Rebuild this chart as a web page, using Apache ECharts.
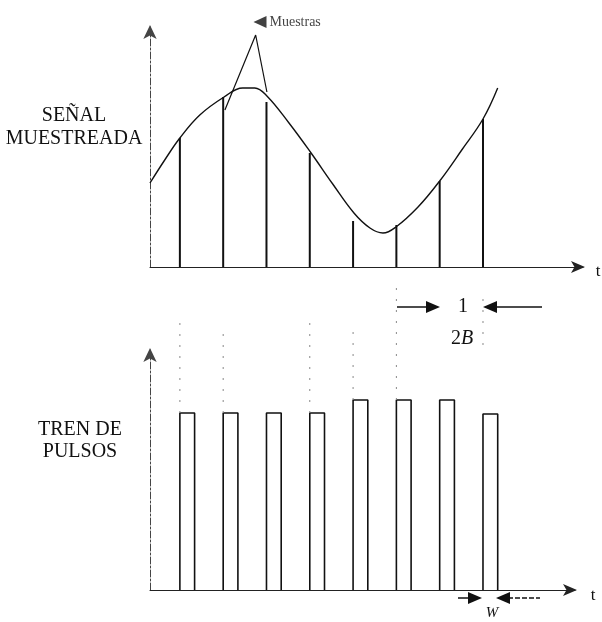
<!DOCTYPE html>
<html><head><meta charset="utf-8">
<script src="https://cdn.jsdelivr.net/npm/echarts@6/dist/echarts.min.js"></script>
<style>html,body{margin:0;padding:0;background:#fff}#c{width:602px;height:622px}</style>
</head><body><div id="c"></div>
<script>
// sample instants (in sample periods) and sampled values
const sampleT = [1, 2, 3, 4, 5, 6, 7, 8];
const sampleValues = [12.9, 17.0, 16.5, 11.4, 4.6, 4.2, 8.6, 14.8];
// continuous signal
const curveT = [0.31, 0.65, 1.0, 1.46, 2.02, 2.45, 2.73, 3.01, 3.52, 4.03, 4.53, 5.02, 5.39, 5.69, 5.99, 6.5, 7.0, 7.51, 8.0, 8.34];
const curveValues = [8.4, 10.7, 12.9, 15.2, 17.0, 17.9, 17.9, 17.1, 14.4, 11.4, 8.3, 5.4, 3.9, 3.4, 4.0, 6.0, 8.6, 11.7, 14.8, 17.9];
// pulse train
const pulseT = [1, 2, 3, 4, 5, 6, 7, 8];
const pulseValues = [17.7, 17.7, 17.7, 17.7, 19.0, 19.0, 19.0, 17.6];
const pulseWidth = 0.34;
// "Muestras" pointer (top grid units)
const pointerT = [2.04, 2.75, 3.01];
const pointerValues = [15.7, 23.2, 17.5];
// faint dotted scan traces above the pulses (bottom grid units)
const traceT = [1, 2, 4, 5, 6, 8];
const traceTop = [27.0, 26.5, 27.5, 25.8, 30.8, 30.0];
const traceBottom = [17.7, 17.7, 17.7, 19.0, 19.0, 24.5];

const black = '#111';
const chart = echarts.init(document.getElementById('c'), null, {renderer: 'canvas'});

function axisX(idx, min, max) {
  return {
    type: 'value', gridIndex: idx, min: min, max: max,
    axisLabel: {show: false}, axisTick: {show: false}, splitLine: {show: false},
    axisLine: {show: true, symbol: ['none', 'arrow'], symbolSize: [9, 14], symbolOffset: [0, 2],
      lineStyle: {color: '#222', width: 1}}
  };
}
function axisY(idx) {
  return {
    type: 'value', gridIndex: idx, min: 0, max: 24,
    axisLabel: {show: false}, axisTick: {show: false}, splitLine: {show: false},
    axisLine: {show: true, onZero: false, symbol: ['none', 'arrow'], symbolSize: [10, 14], symbolOffset: [0, 2],
      lineStyle: {color: '#444', width: 1, type: [7, 2, 2, 2]}}
  };
}

const series = [];
series.push({
  type: 'line', xAxisIndex: 0, yAxisIndex: 0, smooth: 0.4, symbol: 'none',
  lineStyle: {color: black, width: 1.4},
  data: curveT.map((t, i) => [t, curveValues[i]])
});
series.push({
  type: 'bar', xAxisIndex: 0, yAxisIndex: 0, barWidth: 2,
  itemStyle: {color: black},
  data: sampleT.map((t, i) => [t, sampleValues[i]])
});
series.push({
  type: 'line', xAxisIndex: 0, yAxisIndex: 0, symbol: 'none', clip: false,
  lineStyle: {color: black, width: 1.2},
  data: pointerT.map((t, i) => [t, pointerValues[i]])
});
series.push({
  type: 'scatter', xAxisIndex: 0, yAxisIndex: 0, clip: false,
  symbol: 'triangle', symbolRotate: 90, symbolSize: [12, 13],
  itemStyle: {color: black},
  label: {show: true, position: 'right', distance: 3, formatter: 'Muestras',
    fontFamily: 'Liberation Serif', fontSize: 14, color: black},
  data: [[2.85, 24.5]]
});
pulseT.forEach((t, i) => {
  const h = pulseValues[i];
  series.push({
    type: 'line', xAxisIndex: 1, yAxisIndex: 1, symbol: 'none',
    lineStyle: {color: black, width: 1.6},
    data: [[t, 0], [t, h], [t + pulseWidth, h], [t + pulseWidth, 0]]
  });
});
traceT.forEach((t, i) => {
  series.push({
    type: 'line', xAxisIndex: 1, yAxisIndex: 1, symbol: 'none', clip: false,
    lineStyle: {color: '#888', width: 1, type: [2, 9]},
    data: [[t, traceBottom[i]], [t, traceTop[i]]]
  });
});

const serif = 'Liberation Serif';
function tri(tipX, y, dir) {
  const b = tipX - dir * 14;
  return {type: 'polygon', shape: {points: [[tipX, y], [b, y - 6], [b, y + 6]]}, style: {fill: black}};
}
function seg(x1, x2, y, dash) {
  return {type: 'line', shape: {x1: x1, y1: y, x2: x2, y2: y}, style: {stroke: black, lineWidth: 1.5, lineDash: dash || null}};
}

chart.setOption({
  animation: false,
  backgroundColor: '#fff',
  grid: [
    {left: 150, top: 27, width: 433, height: 240},
    {left: 150, top: 350, width: 425, height: 240}
  ],
  xAxis: [axisX(0, 0.31, 10.31), axisX(1, 0.31, 10.125)],
  yAxis: [axisY(0), axisY(1)],
  series: series,
  graphic: [
    {type: 'text', style: {x: 74, y: 127, text: 'SEÑAL\nMUESTREADA', align: 'center', verticalAlign: 'middle',
      font: '20px ' + serif, lineHeight: 23, fill: black}},
    {type: 'text', style: {x: 80, y: 441, text: 'TREN DE\nPULSOS', align: 'center', verticalAlign: 'middle',
      font: '20px ' + serif, lineHeight: 22, fill: black}},
    {type: 'text', style: {x: 598, y: 272, text: 't', align: 'center', verticalAlign: 'middle', font: '17px ' + serif, fill: black}},
    {type: 'text', style: {x: 593, y: 596, text: 't', align: 'center', verticalAlign: 'middle', font: '17px ' + serif, fill: black}},
    {type: 'text', style: {x: 463, y: 307, text: '1', align: 'center', verticalAlign: 'middle', font: '20px ' + serif, fill: black}},
    {type: 'text', style: {x: 462, y: 339, text: '{a|2}{b|B}', align: 'center', verticalAlign: 'middle',
      rich: {a: {fontFamily: serif, fontSize: 20, fill: black}, b: {fontFamily: serif, fontSize: 20, fontStyle: 'italic', fill: black}}}},
    {type: 'text', style: {x: 492, y: 613, text: 'W', align: 'center', verticalAlign: 'middle', font: 'italic 15px ' + serif, fill: black}},
    seg(397, 428, 307), tri(440, 307, 1),
    seg(495, 542, 307), tri(483, 307, -1),
    seg(458, 470, 598), tri(482, 598, 1),
    seg(508, 540, 598, [5, 2]), tri(496, 598, -1)
  ]
});
</script></body></html>
